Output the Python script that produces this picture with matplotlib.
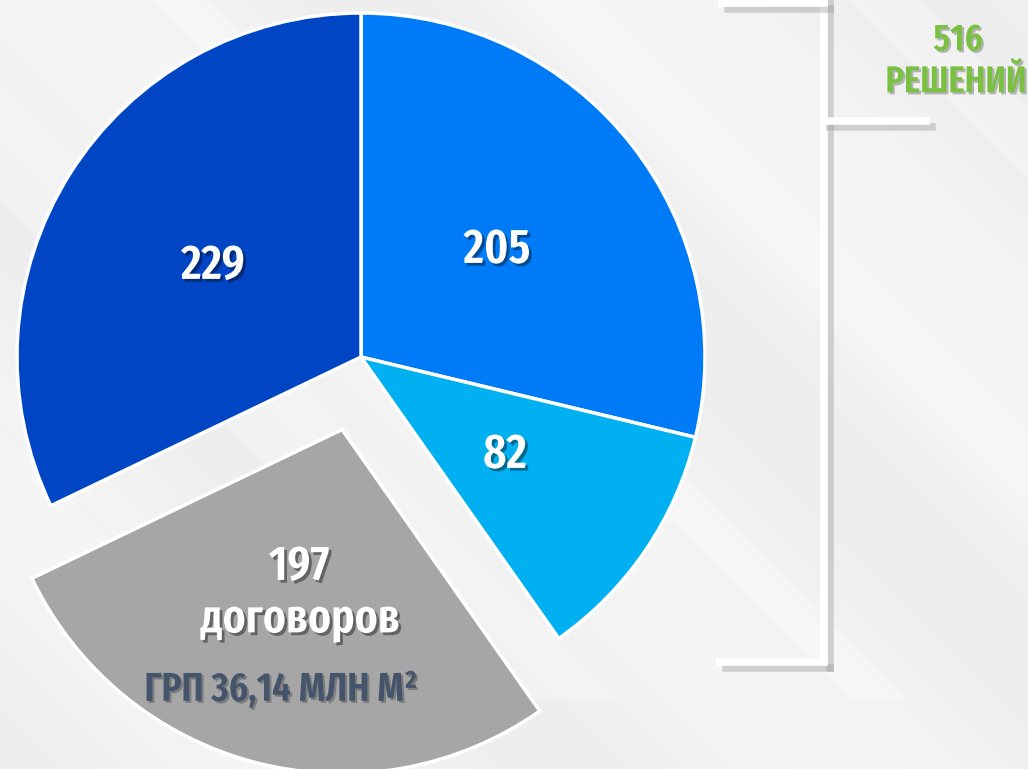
import numpy as np
import matplotlib.pyplot as plt
import matplotlib.patheffects as pe
from matplotlib import font_manager

# data
values = [205, 82, 197, 229]
labels = ["205", "82", "197", "229"]
colors = ["#007BF8", "#00B0F0", "#A6A6A6", "#0046C4"]
total_text = ["516", "РЕШЕНИЙ"]
sub_label = "договоров"
grp_label = "ГРП 36,14 МЛН М²"

# narrow bold font, first one found
names = {f.name for f in font_manager.fontManager.ttflist}
font = "DejaVu Sans"
for cand in ["Fira Sans Extra Condensed", "Fira Sans Condensed", "Roboto Condensed",
             "PT Sans Narrow", "Open Sans Condensed", "Liberation Sans Narrow"]:
    if cand in names:
        font = cand
        break

W, H = 1028, 769
fig = plt.figure(figsize=(W / 100, H / 100), dpi=100)
ax = fig.add_axes([0, 0, 1, 1])

# background with light diagonal streaks
yy, xx = np.mgrid[0:H, 0:W]
bg = 0.93 + 0.03 * np.sin((xx + yy) / 180.0) ** 2
ax.imshow(bg, cmap="gray", vmin=0, vmax=1, extent=[0, W, 0, H], origin="lower", zorder=0)
for x0, w in [(-200, 120), (150, 60), (500, 90), (850, 70)]:
    ax.fill([x0, x0 + w, x0 + w + 700, x0 + 700], [769, 769, 69, 69],
            color="white", alpha=0.25, lw=0, zorder=0.5)

# pie, gray slice pulled out (explode is in data units here)
cx, cy, r = 361, H - 357, 344
explode = [0, 0, 75, 0]
wedges, _ = ax.pie(values, colors=colors, startangle=90, counterclock=False,
                   explode=explode, center=(cx, cy), radius=r,
                   wedgeprops=dict(edgecolor="white", linewidth=2.5), frame=True)
ax.set_xlim(0, W)
ax.set_ylim(0, H)
ax.set_aspect("equal")
ax.axis("off")

shadow = [pe.SimplePatchShadow(offset=(2, -2), shadow_rgbFace="black", alpha=0.4), pe.Normal()]

ax.text(213, H - 266, labels[3], color="white", fontsize=35, fontweight="semibold",
        family=font, ha="center", va="center", path_effects=shadow)
ax.text(497, H - 250, labels[0], color="white", fontsize=35, fontweight="semibold",
        family=font, ha="center", va="center", path_effects=shadow)
ax.text(505, H - 455, labels[1], color="white", fontsize=35, fontweight="semibold",
        family=font, ha="center", va="center", path_effects=shadow)
ax.text(299, H - 567, labels[2], color="white", fontsize=35, fontweight="semibold",
        family=font, ha="center", va="center", path_effects=shadow)
ax.text(300, H - 620, sub_label, color="white", fontsize=34, fontweight="semibold",
        family=font, ha="center", va="center", path_effects=shadow)
ax.text(281, H - 690, grp_label, color="#44546A", fontsize=29, fontweight="semibold",
        family=font, ha="center", va="center",
        path_effects=[pe.SimplePatchShadow(offset=(1.5, -1.5), shadow_rgbFace="black", alpha=0.25), pe.Normal()])

# bracket
line_fx = [pe.SimpleLineShadow(offset=(4, -4), shadow_color="#999999", alpha=0.4), pe.Normal()]
bx = 824
ax.plot([bx, bx], [H + 5, H - 662], color="white", lw=5.5, solid_capstyle="projecting",
        path_effects=line_fx, zorder=3)
ax.plot([722, bx], [H - 3, H - 3], color="white", lw=5.5, solid_capstyle="projecting",
        path_effects=line_fx, zorder=3)
ax.plot([bx, 926], [H - 121, H - 121], color="white", lw=5.5, solid_capstyle="projecting",
        path_effects=line_fx, zorder=3)
ax.plot([720, bx], [H - 662, H - 662], color="white", lw=5.5, solid_capstyle="projecting",
        path_effects=line_fx, zorder=3)

green_fx = [pe.SimplePatchShadow(offset=(1.5, -1.5), shadow_rgbFace="black", alpha=0.25), pe.Normal()]
ax.text(958, H - 40, total_text[0], color="#7AC143", fontsize=27, fontweight="semibold",
        family=font, ha="center", va="center", path_effects=green_fx)
ax.text(956, H - 82, total_text[1], color="#7AC143", fontsize=27, fontweight="semibold",
        family=font, ha="center", va="center", path_effects=green_fx)

fig.savefig("out.png", dpi=100)
plt.close(fig)
